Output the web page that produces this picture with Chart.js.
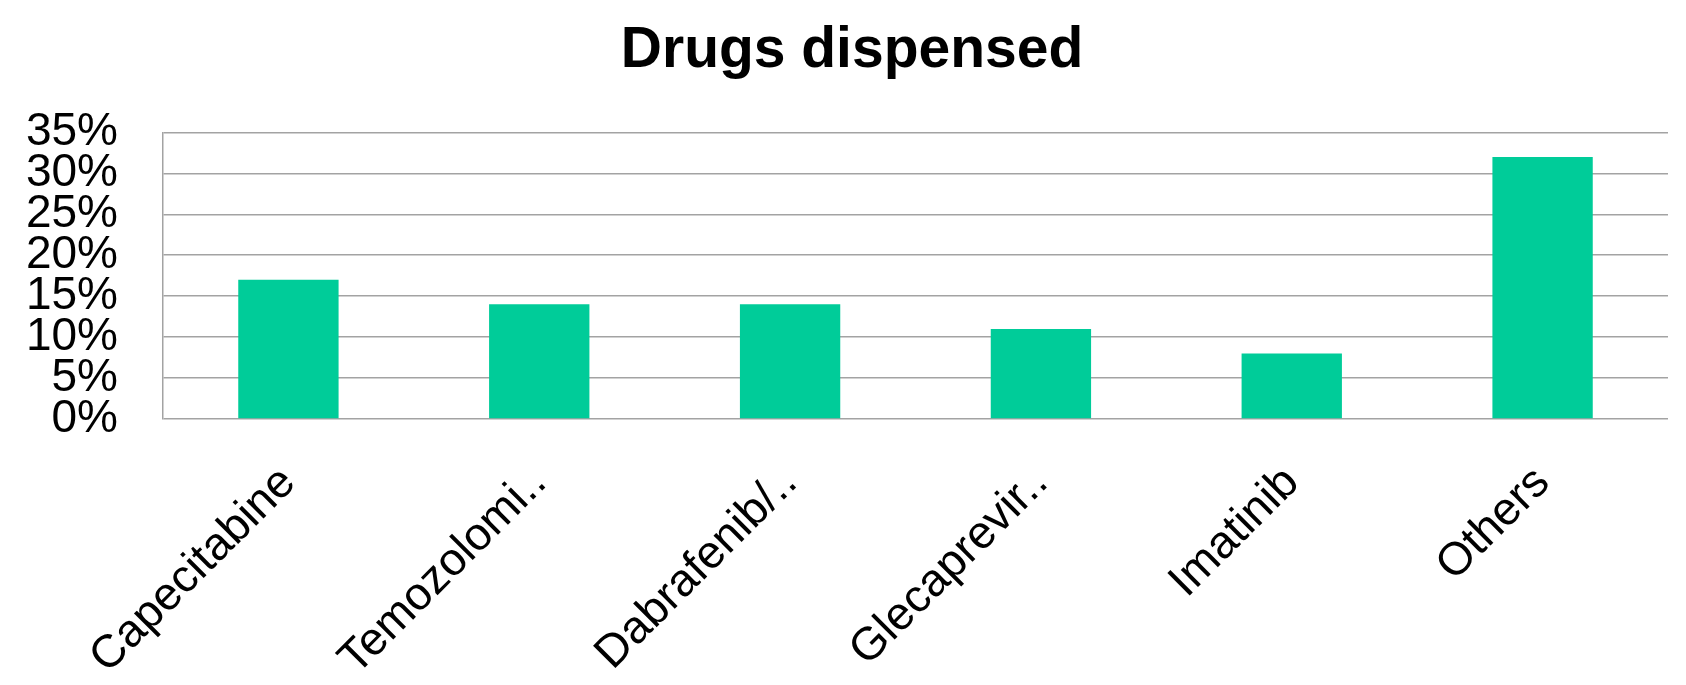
<!DOCTYPE html>
<html>
<head>
<meta charset="utf-8">
<script src="https://cdn.jsdelivr.net/npm/chart.js@4.4.1/dist/chart.umd.min.js"></script>
<style>
  html, body { margin: 0; padding: 0; background: #ffffff; }
  #wrap { width: 1686px; height: 685px; position: relative; }
</style>
</head>
<body>
<div id="wrap"><canvas id="c" width="1686" height="685"></canvas></div>
<script>
const titleText = 'Drugs dispensed';
const categories = ['Capecitabine', 'Temozolomi..', 'Dabrafenib/..', 'Glecaprevir..', 'Imatinib', 'Others'];
const shareValues = [17, 14, 14, 11, 8, 32];
const yTickValues = [0, 5, 10, 15, 20, 25, 30, 35];

const FONT = "'Liberation Sans', Arial, Helvetica, sans-serif";

new Chart(document.getElementById('c'), {
  type: 'bar',
  data: {
    labels: categories,
    datasets: [{
      data: shareValues,
      backgroundColor: '#00cc99',
      borderWidth: 0,
      barPercentage: 0.4,
      categoryPercentage: 1.0,
      yAxisID: 'y'
    }]
  },
  options: {
    responsive: false,
    devicePixelRatio: 1,
    animation: false,
    layout: { padding: { left: 18, right: 0, top: 0, bottom: 0 } },
    plugins: {
      legend: { display: false },
      tooltip: { enabled: false },
      title: {
        display: true,
        text: titleText,
        color: '#000000',
        font: { family: FONT, size: 57, weight: 'bold', lineHeight: 1.2 },
        padding: { top: 17, bottom: 47 }
      }
    },
    scales: {
      x: {
        grid: { display: false, drawTicks: false },
        border: { display: false },
        ticks: {
          color: '#000000',
          font: { family: FONT, size: 46 },
          minRotation: 45,
          maxRotation: 45,
          autoSkip: false,
          padding: 37,
          labelOffset: 0
        },
        afterFit: (scale) => { scale.height = 266; }
      },
      y: {
        position: 'left',
        min: 0,
        max: 35,
        afterBuildTicks: (scale) => { scale.ticks = yTickValues.map(v => ({ value: v })); },
        grid: { color: '#a3a3a3', lineWidth: 1.5, drawTicks: false },
        border: { display: true, color: '#a3a3a3', width: 1.5 },
        ticks: {
          color: '#000000',
          font: { family: FONT, size: 46 },
          autoSkip: false,
          padding: 45,
          callback: (v) => v + '%'
        },
        afterFit: (scale) => { scale.width = 145; }
      },
      spacer: {
        position: 'right',
        display: true,
        min: 0,
        max: 1,
        grid: { display: false, drawTicks: false },
        border: { display: false },
        ticks: { display: false },
        afterFit: (scale) => { scale.width = 18; }
      }
    }
  }
});
</script>
</body>
</html>
